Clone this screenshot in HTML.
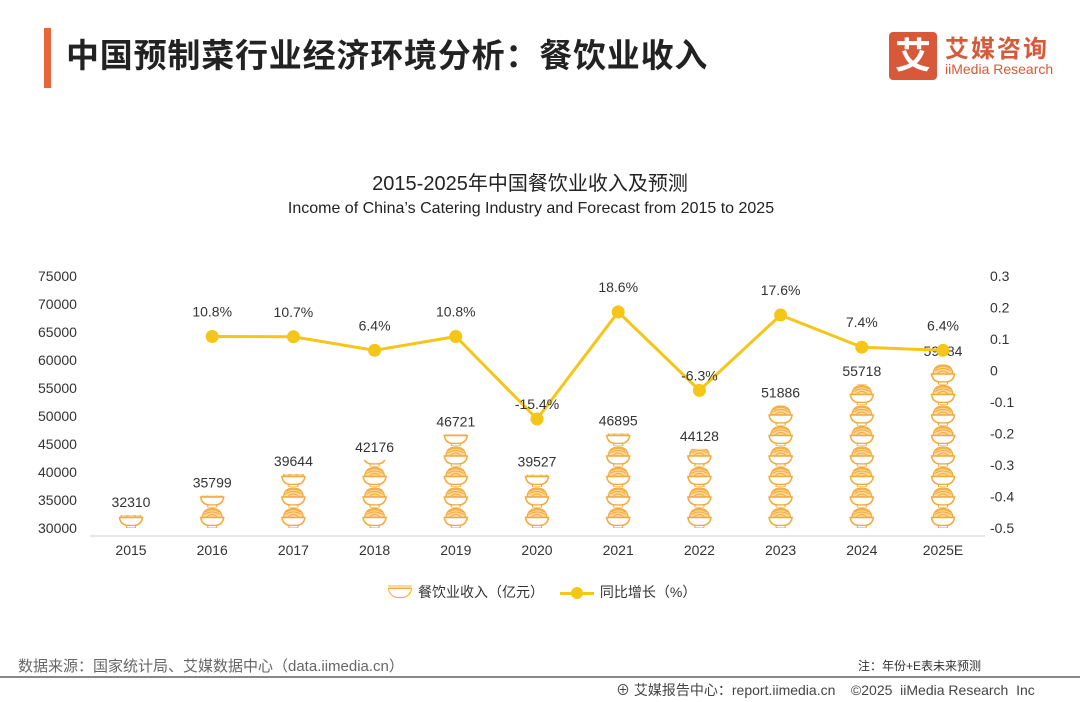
<!DOCTYPE html>
<html><head><meta charset="utf-8">
<style>
body{margin:0;width:1080px;height:702px;background:#fff;overflow:hidden;font-family:"Liberation Sans","Noto Sans CJK SC",sans-serif;position:relative}
.abs{position:absolute}
</style></head><body>
<div class="abs" style="left:44px;top:28px;width:7px;height:60px;background:#e8663a"></div>
<div class="abs" style="left:66px;top:29px;font-size:33px;font-weight:bold;color:#222;letter-spacing:0.8px">中国预制菜行业经济环境分析：餐饮业收入</div>
<div class="abs" style="left:889px;top:32px;width:170px;height:48px">
  <div style="position:absolute;left:0;top:0;width:48px;height:48px;background:#d8583a;border-radius:4px;color:#fff;font-size:36px;font-weight:bold;text-align:center;line-height:48px">艾</div>
  <div style="position:absolute;left:56px;top:-3px;color:#d8583a;font-size:24px;font-weight:bold;letter-spacing:2px">艾媒咨询</div>
  <div style="position:absolute;left:56px;top:29px;color:#d8583a;font-size:14px">iiMedia Research</div>
</div>
<div class="abs" style="left:0;width:1060px;top:167px;text-align:center;font-size:20px;color:#222">2015-2025年中国餐饮业收入及预测</div>
<div class="abs" style="left:0;width:1062px;top:200px;text-align:center;font-size:16px;color:#222">Income of China’s Catering Industry and Forecast from 2015 to 2025</div>
<svg class="abs" style="left:0;top:0" width="1080" height="702" id="chart">
<defs>
 <pattern id="bowls" patternUnits="userSpaceOnUse" width="26" height="20.5" x="0" y="0">
  <path d="M3,10 Q4,1 13,1 Q22,1 23,10Z" fill="#fcd89a" stroke="#f2a93b" stroke-width="1.3"/>
  <path d="M5,7 Q13,2 21,7 M6,4.5 Q13,0 20,4.5 M8,9 Q13,5 18,9" stroke="#f2a93b" stroke-width="1" fill="none"/>
  <path d="M1.5,10 L24.5,10 Q23.5,17.5 16,18 L10,18 Q2.5,17.5 1.5,10Z" fill="#fff" stroke="#f2a93b" stroke-width="1.5"/>
  <rect x="8.5" y="18" width="9" height="2.5" fill="#fff" stroke="#f2a93b" stroke-width="1.1"/>
 </pattern>
</defs>
</svg>
<div class="abs" style="left:388px;top:582px;font-size:14px;color:#333;height:20px;line-height:20px">
  <span style="display:inline-block;width:22px;height:8px;border:1.5px solid #f2a93b;border-radius:0 0 11px 11px;vertical-align:middle;margin-right:6px;background:#fff;box-shadow:0 -3px 0 #fcd89a"></span><span>餐饮业收入（亿元）</span>
  <span style="display:inline-block;position:relative;width:34px;height:3px;background:#f5c518;vertical-align:middle;margin:0 6px 0 12px"><span style="position:absolute;left:11px;top:-5px;width:12px;height:12px;border-radius:50%;background:#f5c518"></span></span><span>同比增长（%）</span>
</div>
<div class="abs" style="left:18px;top:655px;font-size:15px;color:#666">数据来源：国家统计局、艾媒数据中心（data.iimedia.cn）</div>
<div class="abs" style="left:858px;top:657px;font-size:12px;color:#333">注：年份+E表未来预测</div>
<div class="abs" style="left:0;top:676px;width:1080px;height:2px;background:#888"></div>
<div class="abs" style="left:616px;top:680px;font-size:14px;color:#444">⊕ 艾媒报告中心：report.iimedia.cn &nbsp;&nbsp; ©2025 &nbsp;iiMedia Research &nbsp;Inc</div>
<script>
const years=["2015","2016","2017","2018","2019","2020","2021","2022","2023","2024","2025E"];
const revenue=[32310,35799,39644,42176,46721,39527,46895,44128,51886,55718,59284];
const growth=[null,0.108,0.107,0.064,0.108,-0.154,0.186,-0.063,0.176,0.074,0.064];
const leftTicks=[30000,35000,40000,45000,50000,55000,60000,65000,70000,75000];
const rightTicks=[0.3,0.2,0.1,0,-0.1,-0.2,-0.3,-0.4,-0.5];
const svg=document.getElementById('chart');const NS='http://www.w3.org/2000/svg';
const yL=v=>528-(v-30000)/45000*252;
const yR=v=>528-(v+0.5)/0.8*252;
const x=i=>131+i*81.2;
function mk(t,a,txt){const e=document.createElementNS(NS,t);for(const k in a)e.setAttribute(k,a[k]);if(txt!==undefined)e.textContent=txt;svg.appendChild(e);return e;}
const axis=mk('line',{x1:90,x2:985,y1:536,y2:536,stroke:'#ccc','stroke-width':1});


leftTicks.forEach(v=>{const t=mk('text',{x:38,y:yL(v)+5,'font-size':14,fill:'#333'},v);

});
rightTicks.forEach(v=>{const t=mk('text',{x:990,y:yR(v)+5,'font-size':14,fill:'#333'},String(v));

});
years.forEach((y,i)=>{const t=mk('text',{x:x(i),y:555,'font-size':14,fill:'#333','text-anchor':'middle'},y);

});
const defs=svg.querySelector('defs');
revenue.forEach((v,i)=>{const top=yL(v);
const pat=document.getElementById('bowls').cloneNode(true);pat.id='bowls'+i;pat.setAttribute('x',x(i)-13);pat.setAttribute('y',528);defs.appendChild(pat);
const r=mk('rect',{x:x(i)-13,y:top,width:26,height:528-top,style:`fill:url(#bowls${i})`});


const t=mk('text',{x:x(i),y:top-8,'font-size':14,fill:'#333','text-anchor':'middle'},v);

});
let d='';growth.forEach((g,i)=>{if(g===null)return;d+=(d?'L':'M')+x(i)+','+yR(g);});
const ln=mk('path',{d:d,fill:'none',stroke:'#f5c518','stroke-width':3});


growth.forEach((g,i)=>{if(g===null)return;
const c=mk('circle',{cx:x(i),cy:yR(g),r:6.5,fill:'#f5c518'});


const t=mk('text',{x:x(i),y:(g<0?yR(g)-10:yR(g)-20),'font-size':14,fill:'#333','text-anchor':'middle'},(g*100).toFixed(1)+'%');

});
</script>
</body></html>
